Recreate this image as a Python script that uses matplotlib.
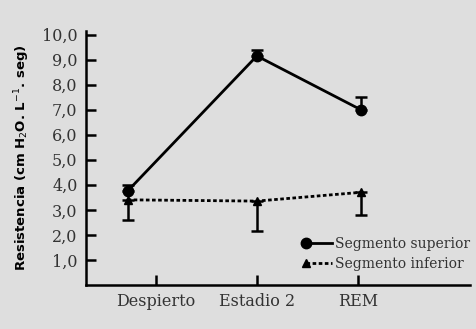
import numpy as np
import matplotlib
matplotlib.use('Agg')
import matplotlib.pyplot as plt
from matplotlib.legend_handler import HandlerLine2D

# fases de sueño y resistencia de la via aerea
fases = ['Despierto', 'Estadio 2', 'REM']
x_fase = [0.72, 2.0, 3.03]

superior = [3.75, 9.15, 7.0]
superior_err = [0.25, 0.25, 0.5]

inferior = [3.4, 3.35, 3.7]
inferior_err = [0.8, 1.2, 0.9]

fondo = '#dedede'


class HandlerMarcaIzq(HandlerLine2D):
    # marcador al inicio de la linea en la leyenda
    def create_artists(self, *args, **kwargs):
        arts = super().create_artists(*args, **kwargs)
        for a in arts:
            a.set_markevery([0])
        return arts


fig = plt.figure(figsize=(4.77, 3.29), dpi=100, facecolor=fondo)
ax = fig.add_axes([0.180, 0.134, 0.805, 0.772], facecolor=fondo)

l1, = ax.plot(x_fase, superior, '-', color='black', lw=2.0,
              marker='o', ms=7.5)
ax.errorbar(x_fase, superior, yerr=[np.zeros(3), superior_err], fmt='none',
            ecolor='black', elinewidth=1.8, capsize=4, capthick=1.8)

l2, = ax.plot(x_fase, inferior, color='black', lw=2.0,
              linestyle=(0, (1.3, 0.9)), marker='^', ms=6)
ax.errorbar(x_fase, inferior, yerr=[inferior_err, np.zeros(3)], fmt='none',
            ecolor='black', elinewidth=1.8, capsize=4, capthick=1.8)

ax.set_xlim(0.307, 4.109)
ax.set_ylim(0, 10.15)
ax.set_xticks([1, 2, 3])
ax.set_xticklabels(fases)
yt = np.arange(1, 11)
ax.set_yticks(yt)
ax.set_yticklabels([('%.1f' % v).replace('.', ',') for v in yt])

for s in ['top', 'right']:
    ax.spines[s].set_visible(False)
for s in ['left', 'bottom']:
    ax.spines[s].set_linewidth(1.8)
ax.tick_params(direction='in', length=7, width=1.8, labelsize=11.5,
               pad=6, colors='black')
for t in ax.get_xticklabels() + ax.get_yticklabels():
    t.set_fontfamily('DejaVu Serif')
    t.set_color('#333333')

fig.text(0.047, 0.52, 'Resistencia (cm H$_2$O. L$^{-1}$. seg)', rotation=90,
         ha='center', va='center', fontsize=9.5, fontweight='bold')

leg = ax.legend([l1, l2], ['Segmento superior', 'Segmento inferior'],
                handler_map={l1: HandlerMarcaIzq(numpoints=1),
                             l2: HandlerMarcaIzq(numpoints=1)},
                loc='lower right', bbox_to_anchor=(1.0, 0.055), frameon=False,
                borderpad=0, borderaxespad=0,
                handlelength=1.9, handletextpad=0.2, labelspacing=0.45,
                prop={'family': 'DejaVu Serif', 'size': 10})
for t in leg.get_texts():
    t.set_color('#333333')

fig.savefig('out.png', dpi=100, facecolor=fondo)
